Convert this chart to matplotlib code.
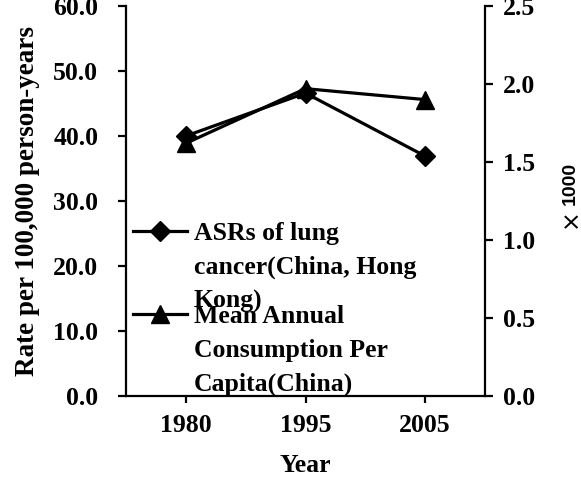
import matplotlib
matplotlib.use("Agg")
import matplotlib.pyplot as plt
from matplotlib.ticker import FormatStrFormatter, MultipleLocator

# data
years = ['1980', '1995', '2005']
asr_lung = [40.0, 46.6, 36.9]          # rate per 100,000 person-years (left axis)
consumption = [1.62, 1.97, 1.90]       # x1000 (right axis)

label_asr = 'ASRs of lung\ncancer(China, Hong\nKong)'
label_cons = 'Mean Annual\nConsumption Per\nCapita(China)'

plt.rcParams['font.family'] = ['Liberation Serif', 'DejaVu Serif']
plt.rcParams['font.weight'] = 'bold'
fs = 18.5

fig = plt.figure(figsize=(5.81, 4.79), dpi=100)
ax = fig.add_axes([0.2169, 0.1733, 0.8348 - 0.2169, 0.9875 - 0.1733])
ax2 = ax.twinx()

x = range(len(years))
l1, = ax.plot(x, asr_lung, color='black', lw=2.3, marker='D', ms=10, label=label_asr)
l2, = ax2.plot(x, consumption, color='black', lw=2.3, marker='^', ms=13, label=label_cons)

ax.set_xlim(-0.5, 2.5)
ax.set_ylim(0, 60)
ax2.set_ylim(0, 2.5)
ax.yaxis.set_major_locator(MultipleLocator(10))
ax.yaxis.set_major_formatter(FormatStrFormatter('%.1f'))
ax2.yaxis.set_major_locator(MultipleLocator(0.5))
ax2.yaxis.set_major_formatter(FormatStrFormatter('%.1f'))
ax.set_xticks(list(x))
ax.set_xticklabels(years)

for a in (ax, ax2):
    a.spines['top'].set_visible(False)
    for s in a.spines.values():
        s.set_linewidth(1.6)
        s.set_color('black')
ax.spines['right'].set_visible(False)
ax2.spines['left'].set_visible(False)
ax2.spines['bottom'].set_visible(False)

ax.tick_params(axis='y', direction='out', length=6, width=1.6, labelsize=fs, pad=14)
ax.tick_params(axis='x', direction='out', length=5, width=1.6, labelsize=fs, pad=8)
ax2.tick_params(axis='y', direction='out', length=6, width=1.6, labelsize=fs, pad=7)

ax.set_xlabel('Year', fontsize=fs, fontweight='bold', labelpad=12)
ax.set_ylabel('Rate per 100,000 person-years', fontsize=19.5, fontweight='bold')
ax.yaxis.set_label_coords(-0.24, 0.5)

fig.text(0.982, 0.545, '\u00d7', rotation=90, fontsize=17, family='DejaVu Sans',
         fontweight='normal', ha='center', va='center')
fig.text(0.982, 0.616, '1000', rotation=90, fontsize=14, family='Liberation Sans',
         fontweight='bold', ha='center', va='center')

leg = ax.legend([l1, l2], [label_asr, label_cons], loc='upper left',
                bbox_to_anchor=(0.02, 0.445), frameon=False, fontsize=fs,
                handlelength=2.1, handletextpad=0.25, labelspacing=-0.3,
                borderpad=0, borderaxespad=0)
for t in leg.get_texts():
    t.set_linespacing(1.58)
# handle next to the first text line, like the original
for col in leg._legend_handle_box.get_children():
    for hp in col.get_children():
        hp.align = 'top'

fig.savefig('out.png', dpi=100)
